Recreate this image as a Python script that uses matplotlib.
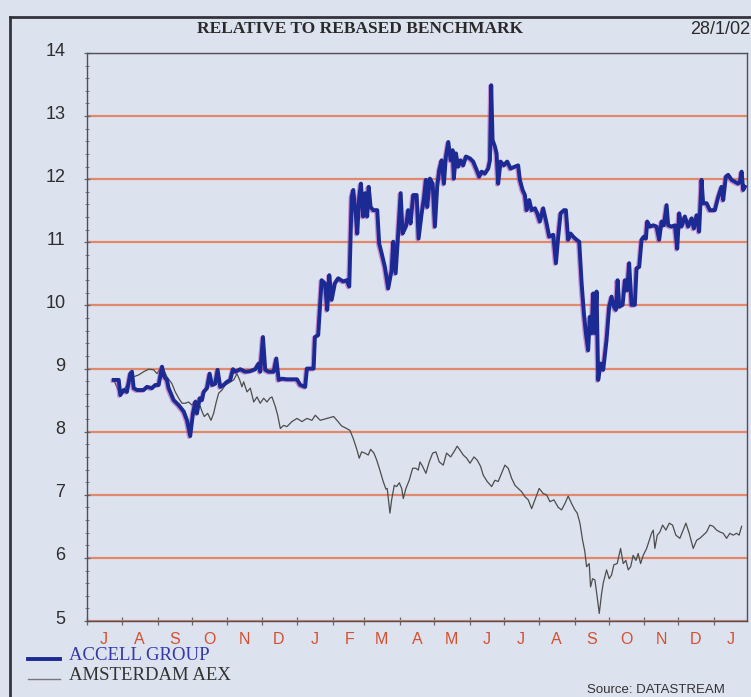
import matplotlib
matplotlib.use("Agg")
import matplotlib.pyplot as plt
import matplotlib.dates as mdates
import matplotlib.transforms as mtransforms
from matplotlib.lines import Line2D
from matplotlib.ticker import MultipleLocator, FuncFormatter, NullFormatter
import pandas as pd

# ---------------- data (days after 1 Jul 2000, relative value) ----------------
START = "2000-07-01"
END = "2002-01-30"

accell_day = [23.4, 27.8, 29.2, 32.1, 35.0, 37.9, 39.4, 40.9, 43.8, 49.6, 52.5, 56.9, 59.8, 62.8,
              65.7, 67.7, 70.0, 71.5, 75.9, 80.3, 84.7, 87.6, 90.4, 92.8, 94.8, 96.3, 98.7, 100.7,
              102.2, 105.1, 107.4, 109.5, 112.3, 114.4, 116.7, 119.7, 122.6, 125.5, 127.8, 129.9,
              134.2, 138.6, 143.0, 147.4, 150.3, 151.7, 154.1, 156.1, 159.1, 163.5, 165.8, 167.9,
              170.7, 175.1, 183.9, 186.8, 191.1, 192.6, 198.5, 199.6, 202.5, 205.5, 208.4, 210.4,
              212.2, 214.3, 217.1, 220.0, 224.4, 227.4, 229.7, 231.8, 233.2, 235.5, 236.7, 238.4,
              239.9, 241.9, 243.7, 245.4, 246.7, 248.4, 250.7, 254.2, 255.9, 258.0, 260.9, 263.8,
              266.8, 268.2, 270.3, 272.0, 274.7, 276.4, 279.3, 281.3, 283.4, 285.7, 288.7, 290.4,
              293.1, 295.1, 296.8, 298.0, 300.3, 302.7, 304.7, 306.7, 308.5, 310.6, 312.6, 314.3,
              316.4, 318.5, 320.2, 321.3, 323.1, 325.1, 327.2, 329.5, 331.9, 335.4, 338.2, 341.2,
              343.5, 345.6, 348.5, 351.4, 352.9, 354.0, 355.2, 357.2, 358.7, 360.1, 362.2, 365.1,
              368.0, 371.0, 374.8, 377.6, 379.1, 381.5, 383.5, 385.0, 387.3, 389.4, 392.3, 394.3,
              396.6, 399.5, 402.5, 404.8, 408.3, 410.7, 412.7, 414.8, 417.7, 419.4, 421.4, 423.5,
              425.8, 428.8, 431.1, 433.2, 435.2, 436.9, 438.9, 440.4, 441.9, 443.3, 444.8, 446.3,
              447.7, 449.8, 452.1, 455.0, 457.3, 459.4, 461.4, 463.2, 464.7, 466.1, 469.1, 471.1,
              473.1, 474.8, 476.9, 479.8, 481.3, 483.6, 485.7, 487.7, 489.5, 490.6, 493.0, 495.9,
              498.8, 501.1, 503.2, 505.2, 507.6, 509.0, 512.0, 514.9, 516.9, 518.6, 520.7, 523.6,
              526.5, 529.5, 531.5, 533.9, 536.1, 538.2, 539.6, 542.6, 545.5, 549.9, 552.8, 555.7,
              557.2, 559.5, 561.5, 564.5, 567.4, 570.3, 571.8, 573.3, 574.7, 576.1]
accell_val = [8.82, 8.82, 8.58, 8.66, 8.63, 8.92, 8.95, 8.69, 8.66, 8.66, 8.71, 8.69, 8.74, 8.74,
              9.03, 8.87, 8.82, 8.69, 8.50, 8.42, 8.32, 8.18, 7.93, 8.29, 8.47, 8.29, 8.53, 8.50,
              8.63, 8.69, 8.92, 8.74, 8.76, 8.98, 8.71, 8.74, 8.79, 8.82, 8.99, 8.95,
              8.99, 8.95, 8.96, 8.99, 9.08, 8.95, 9.50, 8.98, 8.95, 8.95, 9.16, 8.82,
              8.84, 8.83, 8.83, 8.74, 8.71, 9.00, 9.00, 9.50, 9.53, 10.40, 10.35, 9.93,
              10.48, 10.09, 10.35, 10.43, 10.38, 10.40, 10.30, 11.72, 11.83, 11.41, 11.14, 11.72,
              11.93, 11.41, 11.78, 11.41, 11.88, 11.56, 11.51, 11.51, 10.98, 10.83, 10.61, 10.27,
              10.56, 11.01, 10.51, 10.98, 11.78, 11.14, 11.25, 11.51, 11.30, 11.75, 11.75, 11.06,
              11.46, 11.70, 11.99, 11.56, 12.01, 11.93, 11.25, 11.88, 12.15, 12.30, 11.93, 12.36,
              12.59, 12.30, 12.46, 12.01, 12.41, 12.20, 12.30, 12.22, 12.36, 12.33, 12.28, 12.15,
              12.04, 12.12, 12.09, 12.17, 12.30, 13.49, 12.62, 12.52, 12.41, 11.93, 12.28, 12.22,
              12.28, 12.17, 12.20, 12.22, 11.99, 11.83, 11.75, 11.51, 11.67, 11.51, 11.54, 11.46,
              11.33, 11.54, 11.30, 11.09, 11.12, 10.67, 11.09, 11.46, 11.51, 11.51, 11.04, 11.14,
              11.09, 11.04, 11.01, 10.35, 9.87, 9.56, 9.29, 9.82, 9.56, 10.19, 9.56, 10.22,
              8.82, 9.08, 8.98, 9.45, 9.98, 10.14, 9.98, 9.93, 10.40, 9.98, 10.01, 10.40,
              10.24, 10.67, 10.01, 10.01, 10.59, 10.61, 11.04, 11.09, 11.06, 11.33, 11.25, 11.27,
              11.25, 11.04, 11.33, 11.27, 11.59, 11.27, 11.25, 11.27, 10.90, 11.46, 11.25, 11.41,
              11.25, 11.38, 11.22, 11.43, 11.17, 11.99, 11.62, 11.62, 11.51, 11.51, 11.72, 11.88,
              11.67, 12.04, 12.07, 11.99, 11.96, 11.93, 11.96, 12.12, 11.83, 11.88]

aex_day = [23.4, 29.2, 37.9, 40.9, 45.3, 49.6, 54.0, 58.4, 61.3, 64.2, 67.2, 70.0, 74.4, 77.3,
           80.3, 83.2, 86.1, 89.0, 91.9, 94.8, 97.8, 100.7, 102.7, 105.7, 108.6, 110.9, 113.2,
           115.3, 118.2, 121.1, 124.1, 128.5, 131.3, 133.7, 135.7, 137.2, 140.1, 143.0, 146.0,
           148.9, 151.7, 154.7, 157.6, 160.0, 162.0, 164.9, 167.0, 169.3, 172.2, 175.1, 179.5,
           183.9, 188.3, 192.6, 197.0, 199.9, 204.3, 210.1, 216.0, 218.9, 223.0, 227.4, 230.3,
           233.2, 236.1, 238.4, 240.5, 243.4, 246.3, 248.4, 251.3, 253.7, 256.5, 259.4, 261.8,
           262.9, 265.3, 266.8, 269.1, 271.2, 273.5, 275.6, 277.0, 279.3, 282.2, 285.2, 288.1,
           290.1, 291.6, 293.9, 296.8, 299.7, 302.7, 305.6, 308.5, 312.0, 314.9, 318.5, 321.3,
           324.2, 326.6, 329.5, 332.5, 335.4, 338.9, 341.7, 344.7, 347.0, 350.5, 354.4, 357.2,
           360.1, 363.1, 366.0, 368.9, 371.9, 374.8, 377.6, 380.6, 383.5, 386.4, 389.4, 392.3,
           396.0, 399.5, 402.5, 405.4, 408.9, 412.7, 415.6, 418.5, 421.4, 424.4, 427.3, 429.3,
           431.7, 434.0, 436.0, 437.5, 439.8, 441.0, 442.8, 444.8, 446.8, 448.6, 450.7, 452.1,
           455.0, 457.3, 459.4, 461.4, 464.3, 467.3, 469.6, 471.9, 474.0, 476.1, 478.3, 480.7,
           482.7, 484.8, 487.1, 490.1, 492.4, 494.4, 495.9, 497.3, 499.4, 501.7, 504.1, 507.0,
           509.9, 512.8, 515.7, 519.2, 522.1, 524.5, 527.4, 530.9, 533.9, 536.7, 539.6, 542.6,
           545.5, 548.4, 551.4, 554.3, 557.2, 560.1, 563.0, 565.9, 568.9, 571.1, 573.3]
aex_val = [8.82, 8.58, 8.82, 8.87, 8.90, 8.95, 8.99, 8.98, 8.92, 9.00, 8.98, 8.87, 8.76, 8.63,
           8.53, 8.45, 8.45, 8.47, 8.42, 8.50, 8.47, 8.32, 8.24, 8.29, 8.18, 8.29, 8.47,
           8.61, 8.66, 8.74, 8.77, 8.82, 8.92, 8.82, 8.71, 8.79, 8.63, 8.69, 8.47,
           8.55, 8.45, 8.53, 8.47, 8.53, 8.55, 8.40, 8.26, 8.05, 8.10, 8.08, 8.16,
           8.21, 8.16, 8.21, 8.18, 8.26, 8.18, 8.21, 8.24, 8.18, 8.09, 8.05, 8.02,
           7.89, 7.73, 7.58, 7.68, 7.66, 7.63, 7.72, 7.66, 7.55, 7.39, 7.21, 7.09,
           7.10, 6.71, 6.92, 7.15, 7.13, 7.19, 7.10, 6.94, 7.10, 7.23, 7.42, 7.42,
           7.39, 7.52, 7.45, 7.34, 7.52, 7.66, 7.68, 7.52, 7.47, 7.66, 7.60, 7.68,
           7.77, 7.71, 7.63, 7.58, 7.50, 7.60, 7.55, 7.45, 7.31, 7.21, 7.13, 7.23,
           7.21, 7.34, 7.47, 7.42, 7.26, 7.15, 7.10, 7.05, 6.97, 6.92, 6.78, 6.92,
           7.10, 7.02, 7.00, 6.89, 6.92, 6.80, 6.76, 6.86, 6.98, 6.86, 6.76, 6.71,
           6.55, 6.28, 6.10, 5.86, 5.91, 5.54, 5.67, 5.65, 5.38, 5.12, 5.44, 5.60,
           5.81, 5.67, 5.73, 5.89, 5.91, 6.15, 5.91, 5.96, 5.81, 5.86, 6.04, 5.96,
           6.07, 5.91, 6.04, 6.15, 6.28, 6.39, 6.44, 6.15, 6.36, 6.41, 6.52, 6.44,
           6.55, 6.52, 6.36, 6.31, 6.44, 6.55, 6.39, 6.15, 6.28, 6.31, 6.36, 6.41,
           6.52, 6.50, 6.44, 6.41, 6.39, 6.31, 6.39, 6.36, 6.39, 6.36, 6.50]

y_min, y_max = 5, 14
title_text = "RELATIVE TO REBASED BENCHMARK"
date_text = "28/1/02"
series_names = ["ACCELL GROUP", "AMSTERDAM AEX"]
source_text = "Source: DATASTREAM"

# ---------------- styling ----------------
BG = "#dde2ef"
BLUE = "#1c2a93"
FRINGE = "#b04ab8"
GREY = "#4d4d4d"
GRID = "#e2896b"
MONTHC = "#d4502e"
FRAME = "#33333c"

base = pd.Timestamp(START)
acc_dates = base + pd.to_timedelta(accell_day, unit="D")
aex_dates = base + pd.to_timedelta(aex_day, unit="D")

W, H = 751, 697
fig = plt.figure(figsize=(W / 100, H / 100), dpi=100, facecolor=BG)
ax = fig.add_axes([87 / W, 1 - 621 / H, 660 / W, 568 / H])
ax.set_facecolor(BG)

ax.set_xlim(base, pd.Timestamp(END))
ax.set_ylim(y_min, y_max)

ax.grid(axis="y", which="major", color=GRID, lw=1.6)
ax.set_axisbelow(True)

ax.plot(aex_dates, aex_val, color=GREY, lw=0.9, zorder=3)
fringe = ax.transData + mtransforms.ScaledTranslation(-1.2 / 100, -1.0 / 100, fig.dpi_scale_trans)
ax.plot(acc_dates, accell_val, color=FRINGE, lw=2.8, alpha=0.55, zorder=4, transform=fringe,
        solid_joinstyle="round")
ax.plot(acc_dates, accell_val, color=BLUE, lw=2.8, zorder=5, solid_joinstyle="round")

for s in ax.spines.values():
    s.set_color("#50505a")
    s.set_linewidth(1.0)

# x axis: ticks at month starts, single letter labels mid-month
ax.xaxis.set_major_locator(mdates.MonthLocator())
ax.xaxis.set_major_formatter(NullFormatter())
ax.xaxis.set_minor_locator(mdates.MonthLocator(bymonthday=16))
ax.xaxis.set_minor_formatter(FuncFormatter(lambda x, p: mdates.num2date(x).strftime("%b")[0]))
ax.tick_params(axis="x", which="major", direction="inout", length=6, width=0.9, color="#666")
ax.tick_params(axis="x", which="minor", length=0, pad=8, labelsize=11.5, labelcolor=MONTHC)
for lab in ax.get_xticklabels(minor=True):
    lab.set_family("Liberation Sans")

# y axis
ax.yaxis.set_major_locator(MultipleLocator(1))
ax.yaxis.set_minor_locator(MultipleLocator(0.2))
ax.tick_params(axis="y", which="major", direction="inout", length=5, width=0.9, color="#666",
               pad=13, labelsize=13, labelcolor="#2e2e2e")
ax.tick_params(axis="y", which="minor", direction="inout", length=3, width=0.7, color="#777")
off = mtransforms.ScaledTranslation(0, 4 / 100, fig.dpi_scale_trans)
for t in ax.yaxis.get_major_ticks():
    t.label1.set_family("Liberation Sans")
    t.label1.set_transform(t.label1.get_transform() + off)

# outer frame
fig.add_artist(Line2D([10 / W, 10 / W], [0, 1 - 17 / H], color=FRAME, lw=2.0))
fig.add_artist(Line2D([10 / W, 1], [1 - 17 / H, 1 - 17 / H], color=FRAME, lw=2.0))

# titles
fig.text(360 / W, 1 - 29 / H, title_text, ha="center", va="center", fontsize=12.5,
         fontweight="bold", family="Liberation Serif", color="#2a2a2a")
fig.text(750 / W, 1 - 29 / H, date_text, ha="right", va="center", fontsize=13,
         family="Liberation Sans", color="#2a2a2a")

# legend
fig.add_artist(Line2D([28 / W, 60 / W], [1 - 659 / H] * 2, color=BLUE, lw=2.8))
fig.add_artist(Line2D([28 / W, 60 / W], [1 - 679 / H] * 2, color="#777777", lw=1.0))
fig.text(69 / W, 1 - 656 / H, series_names[0], ha="left", va="center", fontsize=13.5,
         family="Liberation Serif", color="#3438a8")
fig.text(69 / W, 1 - 676 / H, series_names[1], ha="left", va="center", fontsize=13.5,
         family="Liberation Serif", color="#333333")
fig.text(725 / W, 1 - 690 / H, source_text, ha="right", va="center", fontsize=9.5,
         family="Liberation Sans", color="#333333")

fig.savefig("out.png", dpi=100, facecolor=BG)
